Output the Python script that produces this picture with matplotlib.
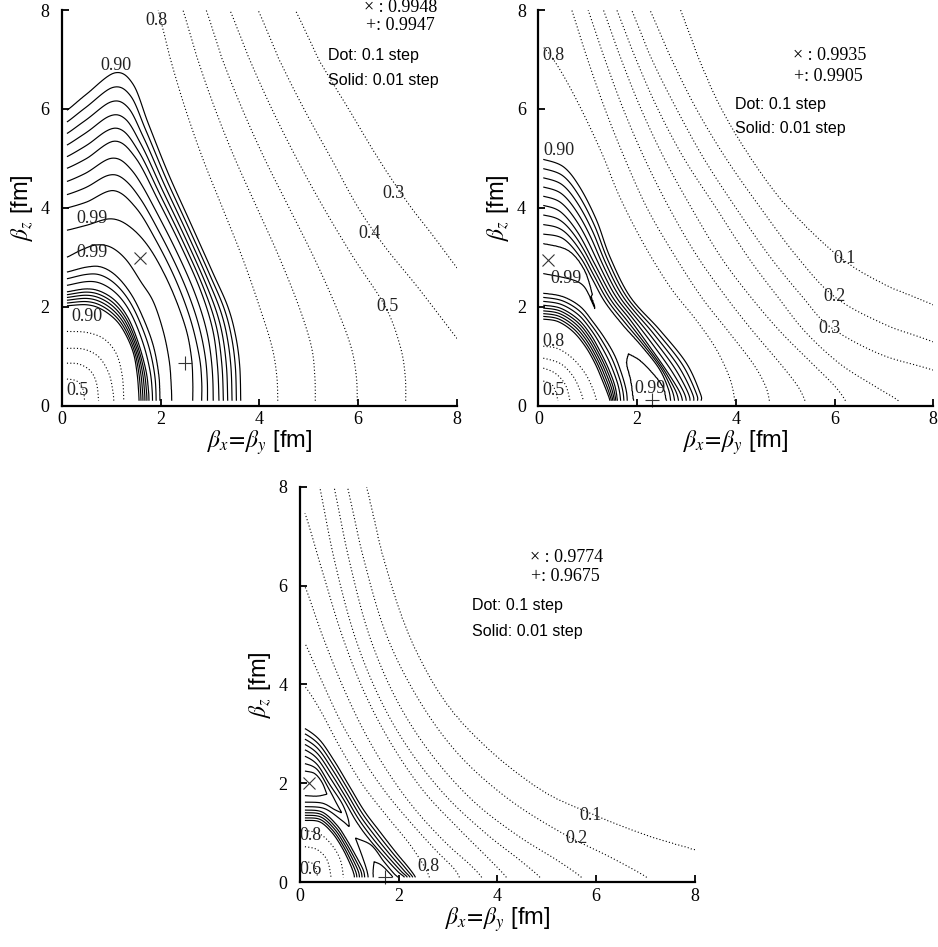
import numpy as np
import matplotlib
matplotlib.use("Agg")
import matplotlib.pyplot as plt

plt.rcParams["font.family"] = ["Liberation Sans", "DejaVu Sans"]
plt.rcParams["mathtext.fontset"] = "stix"
SERIF = ["Liberation Serif", "DejaVu Serif"]

DOT_LEVELS = [0.1, 0.2, 0.3, 0.4, 0.5, 0.6, 0.7, 0.8]
SOLID_LEVELS = [0.90, 0.91, 0.92, 0.93, 0.94, 0.95, 0.96, 0.97, 0.98, 0.99]
TICKS = [0, 2, 4, 6, 8]
TICK_LABELS = ["0", "2", "4", "6", "8"]

# ---------------- Panel 1 ----------------
# Each entry: (overlap value, beta_x points, beta_z points) along that iso-line
P1_LINES = [
    (0.5, [0.10, 0.30, 0.42, 0.46], [0.54, 0.50, 0.35, 0.10]),
    (0.6, [0.10, 0.35, 0.58, 0.70, 0.74], [0.86, 0.84, 0.70, 0.45, 0.10]),
    (0.7, [0.10, 0.45, 0.75, 0.95, 1.03, 1.05], [1.16, 1.14, 0.98, 0.65, 0.30, 0.10]),
    (0.8, [0.10, 0.50, 0.85, 1.10, 1.22, 1.25], [1.50, 1.48, 1.35, 1.05, 0.60, 0.10]),
    (0.90, [0.10, 0.50, 0.80, 1.10, 1.30, 1.45, 1.52, 1.55, 1.56], [2.02, 2.04, 1.95, 1.72, 1.42, 1.05, 0.65, 0.30, 0.10]),
    (0.95, [0.10, 0.50, 0.80, 1.10, 1.35, 1.55, 1.70, 1.75, 1.76], [2.30, 2.36, 2.30, 2.10, 1.75, 1.25, 0.70, 0.30, 0.10]),
    (0.98, [0.10, 0.50, 0.80, 1.10, 1.40, 1.65, 1.85, 1.96, 1.98], [2.70, 2.80, 2.80, 2.62, 2.25, 1.75, 1.20, 0.60, 0.10]),
    (0.99, [0.10, 0.40, 0.70, 1.00, 1.30, 1.60, 1.85, 2.05, 2.17, 2.21, 2.22], [3.00, 3.15, 3.25, 3.20, 2.95, 2.50, 2.10, 1.50, 0.90, 0.40, 0.10]),
    (0.99, [0.10, 0.50, 1.00, 1.40, 1.80, 2.20, 2.50, 2.62, 2.65, 2.65], [3.55, 3.65, 3.78, 3.60, 3.15, 2.40, 1.60, 1.00, 0.50, 0.10]),
    (0.98, [0.10, 0.50, 1.05, 1.50, 1.90, 2.30, 2.60, 2.78, 2.83, 2.83], [4.00, 4.12, 4.35, 4.00, 3.35, 2.55, 1.75, 1.00, 0.50, 0.10]),
    (0.95, [0.10, 0.50, 1.07, 1.50, 1.95, 2.40, 2.80, 3.05, 3.15, 3.18], [4.80, 5.00, 5.35, 5.00, 4.15, 3.25, 2.35, 1.55, 0.80, 0.10]),
    (0.90, [0.10, 0.50, 1.07, 1.44, 1.75, 2.15, 2.60, 3.05, 3.36, 3.52, 3.60, 3.62], [5.97, 6.30, 6.73, 6.50, 5.70, 4.70, 3.70, 2.70, 2.00, 1.40, 0.80, 0.10]),
    (0.8, [1.95, 2.20, 2.50, 2.85, 3.25, 3.65, 4.00, 4.25, 4.35, 4.37], [8.0, 7.0, 6.0, 5.0, 4.0, 3.0, 2.0, 1.2, 0.6, 0.1]),
    (0.7, [2.45, 2.75, 3.10, 3.50, 3.95, 4.40, 4.80, 5.05, 5.12, 5.13], [8.0, 7.0, 6.0, 5.0, 4.0, 3.0, 2.0, 1.2, 0.6, 0.1]),
    (0.6, [2.92, 3.25, 3.65, 4.10, 4.60, 5.10, 5.55, 5.85, 5.96, 5.98], [8.0, 7.0, 6.0, 5.0, 4.0, 3.0, 2.0, 1.2, 0.6, 0.1]),
    (0.5, [3.40, 3.80, 4.25, 4.75, 5.30, 5.90, 6.55, 6.85, 6.95, 6.96], [8.0, 7.0, 6.0, 5.0, 4.0, 3.0, 2.0, 1.2, 0.6, 0.1]),
    (0.4, [3.97, 4.40, 4.90, 5.45, 6.00, 6.55, 7.20, 8.00], [8.0, 7.0, 6.0, 5.0, 4.0, 3.2, 2.4, 1.36]),
    (0.3, [4.72, 5.20, 5.80, 6.40, 7.00, 7.50, 8.00], [8.0, 7.0, 6.0, 5.0, 4.1, 3.45, 2.78]),
    (0.2, [6.00, 8.50, 11.0, 11.5], [11.0, 8.5, 4.0, 0.1]),
]
P1_ARMS = []
P1_RIDGE_X = [0.10, 0.70, 1.58, 2.10, 2.49, 2.45]
P1_RIDGE_Z = [3.27, 3.50, 2.98, 1.90, 0.86, 0.10]
P1_RIDGE_V = [0.9925, 0.993, 0.9948, 0.9935, 0.9947, 0.9945]
P1_NEAR, P1_FAR = 0.42, 0.10
P1_MAX_X, P1_MAX_Z = [1.58, 2.49], [2.98, 0.86]
P1_INFO = ["× : 0.9948", "+: 0.9947"]
P1_LABELS = ["0.8", "0.90", "0.99", "0.99", "0.90", "0.5", "0.3", "0.4", "0.5"]
P1_LABEL_X = [1.92, 1.10, 0.61, 0.61, 0.51, 0.31, 6.71, 6.23, 6.60]
P1_LABEL_Z = [7.78, 6.88, 3.78, 3.10, 1.80, 0.30, 4.30, 3.48, 2.00]

# ---------------- Panel 2 ----------------
P2_LINES = [
    (0.5, [0.10, 0.30, 0.40], [0.50, 0.40, 0.10]),
    (0.6, [0.10, 0.35, 0.55, 0.64], [0.76, 0.65, 0.42, 0.10]),
    (0.7, [0.10, 0.45, 0.70, 0.85, 0.91], [0.96, 0.85, 0.60, 0.30, 0.10]),
    (0.8, [0.10, 0.40, 0.70, 0.95, 1.10, 1.18], [1.20, 1.15, 0.95, 0.65, 0.35, 0.10]),
    (0.90, [0.10, 0.40, 0.70, 0.95, 1.15, 1.30, 1.40, 1.45], [1.75, 1.70, 1.50, 1.20, 0.85, 0.50, 0.25, 0.10]),
    (0.95, [0.10, 0.45, 0.80, 1.05, 1.25, 1.42, 1.55, 1.60], [2.03, 1.97, 1.75, 1.45, 1.10, 0.75, 0.40, 0.10]),
    (0.98, [0.10, 0.50, 0.85, 1.10, 1.35, 1.55, 1.70, 1.78, 1.80], [2.27, 2.20, 2.00, 1.70, 1.35, 1.00, 0.60, 0.30, 0.10]),
    (0.98, [0.10, 0.50, 0.85, 1.10, 1.35, 1.70, 2.10, 2.45, 2.63, 2.68], [3.47, 3.38, 3.00, 2.55, 2.10, 1.65, 1.20, 0.75, 0.35, 0.10]),
    (0.95, [0.10, 0.45, 0.80, 1.15, 1.50, 1.85, 2.25, 2.60, 2.85, 2.92], [4.05, 3.92, 3.50, 2.85, 2.20, 1.75, 1.20, 0.70, 0.30, 0.10]),
    (0.90, [0.10, 0.51, 0.84, 1.18, 1.45, 1.86, 2.46, 3.00, 3.28, 3.30], [4.98, 4.83, 4.42, 3.75, 3.01, 2.20, 1.53, 0.86, 0.25, 0.10]),
    (0.8, [0.10, 0.34, 0.64, 0.98, 1.32, 1.65, 2.13, 2.67, 3.20, 3.60, 3.88, 3.98], [7.25, 6.95, 6.44, 5.77, 5.03, 4.22, 3.28, 2.40, 1.73, 1.15, 0.55, 0.10]),
    (0.7, [0.68, 1.00, 1.35, 1.75, 2.20, 2.72, 3.30, 3.85, 4.35, 4.60, 4.68], [8.0, 7.0, 6.0, 5.0, 4.0, 3.1, 2.2, 1.5, 0.85, 0.4, 0.1]),
    (0.6, [1.01, 1.35, 1.72, 2.15, 2.65, 3.20, 3.80, 4.35, 4.90, 5.25, 5.40], [8.0, 7.0, 6.0, 5.0, 4.0, 3.05, 2.2, 1.5, 0.85, 0.4, 0.1]),
    (0.5, [1.32, 1.68, 2.08, 2.55, 3.10, 3.70, 4.30, 4.90, 5.55, 6.00, 6.22], [8.0, 7.0, 6.0, 5.0, 4.0, 3.0, 2.2, 1.5, 0.85, 0.4, 0.1]),
    (0.4, [1.59, 1.98, 2.42, 2.95, 3.60, 4.25, 4.85, 5.40, 6.10, 6.80, 7.29], [8.0, 7.0, 6.0, 5.0, 4.0, 3.0, 2.2, 1.5, 0.85, 0.4, 0.1]),
    (0.3, [1.89, 2.30, 2.80, 3.35, 4.00, 4.70, 5.35, 5.90, 6.90, 8.00], [8.0, 7.0, 6.0, 5.0, 4.0, 3.0, 2.2, 1.6, 1.05, 0.72]),
    (0.2, [2.26, 2.70, 3.20, 3.80, 4.50, 5.25, 6.00, 7.00, 8.00], [8.0, 7.0, 6.0, 5.0, 4.0, 3.0, 2.2, 1.65, 1.29]),
    (0.1, [2.87, 3.25, 3.70, 4.30, 5.05, 6.10, 7.00, 8.00], [8.0, 7.0, 6.0, 5.0, 4.0, 3.0, 2.45, 2.03]),
]
P2_ARMS = [
    (0.99, [0.10, 0.61, 0.94, 1.11, 1.15], [3.28, 3.14, 2.74, 2.20, 1.93]),
    (0.99, [0.10, 0.81, 1.05, 1.15], [2.67, 2.50, 2.20, 1.93]),
    (0.99, [1.82, 1.78, 1.86, 1.92], [1.06, 0.85, 0.52, 0.10]),
    (0.99, [1.82, 2.06, 2.33, 2.53, 2.60], [1.06, 0.92, 0.65, 0.38, 0.10]),
]
P2_RIDGE_X = [0.10, 0.20, 0.60, 0.95, 1.15, 1.45, 1.82, 2.10, 2.30]
P2_RIDGE_Z = [2.97, 2.94, 2.85, 2.40, 1.93, 1.50, 1.06, 0.60, 0.12]
P2_RIDGE_V = [0.9933, 0.9935, 0.9925, 0.991, 0.990, 0.988, 0.990, 0.9903, 0.9905]
P2_NEAR, P2_FAR = 0.42, 0.0
P2_MAX_X, P2_MAX_Z = [0.20, 2.30], [2.94, 0.12]
P2_INFO = ["× : 0.9935", "+: 0.9905"]
P2_LABELS = ["0.8", "0.90", "0.99", "0.8", "0.5", "0.99", "0.1", "0.2", "0.3"]
P2_LABEL_X = [0.31, 0.41, 0.57, 0.31, 0.31, 2.27, 6.21, 6.00, 5.90]
P2_LABEL_Z = [7.08, 5.16, 2.57, 1.29, 0.30, 0.35, 2.98, 2.20, 1.56]

# ---------------- Panel 3 ----------------
P3_LINES = [
    (0.6, [0.10, 0.28, 0.36], [0.42, 0.36, 0.10]),
    (0.7, [0.10, 0.35, 0.55, 0.63], [0.72, 0.66, 0.45, 0.10]),
    (0.8, [0.10, 0.40, 0.65, 0.82, 0.88], [1.05, 0.98, 0.75, 0.45, 0.10]),
    (0.90, [0.10, 0.40, 0.65, 0.85, 1.00, 1.08, 1.10], [1.25, 1.22, 1.00, 0.70, 0.40, 0.20, 0.10]),
    (0.94, [0.10, 0.45, 0.75, 0.95, 1.15, 1.28, 1.31], [1.46, 1.42, 1.15, 0.85, 0.50, 0.25, 0.10]),
    (0.94, [0.10, 0.35, 0.62, 0.90, 1.15, 1.42, 1.72, 1.98, 2.12], [2.68, 2.50, 2.10, 1.65, 1.22, 0.85, 0.50, 0.22, 0.10]),
    (0.90, [0.10, 0.40, 0.70, 1.00, 1.30, 1.60, 1.95, 2.20, 2.34], [3.11, 2.88, 2.45, 1.95, 1.45, 1.05, 0.60, 0.30, 0.10]),
    (0.8, [0.10, 0.40, 0.80, 1.25, 1.75, 2.20, 2.50, 2.62], [3.96, 3.50, 2.75, 2.00, 1.35, 0.80, 0.35, 0.10]),
    (0.7, [0.10, 0.45, 0.85, 1.30, 1.75, 2.25, 2.75, 3.10, 3.23], [4.83, 4.05, 3.20, 2.45, 1.80, 1.20, 0.65, 0.30, 0.10]),
    (0.6, [0.10, 0.45, 0.85, 1.30, 1.80, 2.35, 2.95, 3.45, 3.68], [5.98, 5.00, 4.00, 3.05, 2.20, 1.45, 0.80, 0.35, 0.10]),
    (0.5, [0.10, 0.45, 0.85, 1.30, 1.85, 2.50, 3.20, 3.80, 4.18], [7.46, 6.30, 5.00, 3.85, 2.80, 1.85, 1.10, 0.50, 0.10]),
    (0.4, [0.40, 0.70, 1.10, 1.60, 2.20, 2.95, 3.75, 4.45, 4.86], [8.0, 6.5, 5.0, 3.75, 2.70, 1.75, 1.00, 0.45, 0.10]),
    (0.3, [0.69, 1.00, 1.40, 1.95, 2.65, 3.50, 4.40, 5.20, 5.70], [8.0, 6.5, 5.0, 3.70, 2.60, 1.65, 0.95, 0.45, 0.10]),
    (0.2, [0.96, 1.30, 1.75, 2.40, 3.20, 4.20, 5.30, 6.30, 7.02], [8.0, 6.5, 5.0, 3.70, 2.60, 1.70, 1.00, 0.50, 0.10]),
    (0.1, [1.34, 1.70, 2.20, 2.90, 3.80, 4.90, 5.90, 7.00, 8.00], [8.0, 6.5, 5.0, 3.70, 2.70, 1.85, 1.38, 0.95, 0.65]),
]
P3_ARMS = [
    (0.97, [0.10, 0.30, 0.45, 0.55], [2.25, 2.20, 2.02, 1.78]),
    (0.97, [0.10, 0.35, 0.55], [1.75, 1.74, 1.78]),
    (0.96, [0.10, 0.35, 0.58, 0.75, 0.85], [2.40, 2.28, 1.90, 1.58, 1.40]),
    (0.96, [0.10, 0.45, 0.70, 0.85], [1.62, 1.60, 1.47, 1.40]),
    (0.95, [0.10, 0.35, 0.60, 0.85, 0.97, 1.00], [2.55, 2.38, 1.98, 1.60, 1.30, 1.12]),
    (0.95, [0.10, 0.50, 0.85, 1.00], [1.53, 1.49, 1.25, 1.12]),
    (0.95, [1.12, 1.25, 1.35, 1.38], [0.90, 0.55, 0.25, 0.10]),
    (0.95, [1.12, 1.45, 1.70, 1.90, 1.98], [0.90, 0.75, 0.42, 0.18, 0.10]),
    (0.96, [1.50, 1.48, 1.48], [0.42, 0.25, 0.10]),
    (0.96, [1.50, 1.65, 1.82, 1.88], [0.42, 0.35, 0.18, 0.10]),
]
P3_RIDGE_X = [0.10, 0.20, 0.55, 0.70, 0.85, 1.00, 1.05, 1.12, 1.50, 1.72]
P3_RIDGE_Z = [2.00, 2.00, 1.78, 1.55, 1.40, 1.12, 1.02, 0.90, 0.42, 0.10]
P3_RIDGE_V = [0.9772, 0.9774, 0.970, 0.965, 0.960, 0.950, 0.9495, 0.950, 0.960, 0.9675]
P3_NEAR, P3_FAR = 0.50, 0.0
P3_MAX_X, P3_MAX_Z = [0.19, 1.72], [2.00, 0.10]
P3_INFO = ["× : 0.9774", "+: 0.9675"]
P3_LABELS = ["0.1", "0.2", "0.8", "0.6", "0.8"]
P3_LABEL_X = [5.88, 5.61, 0.22, 0.22, 2.60]
P3_LABEL_Z = [1.36, 0.89, 0.94, 0.26, 0.32]

# info text anchors: (right x of marker rows, z of rows, left x of legend, z of legend rows)
P1_INFO_POS = ([7.61, 7.55], [8.06, 7.69], 5.38, [7.08, 6.58])
P2_INFO_POS = ([6.65, 6.58], [7.08, 6.66], 3.98, [6.09, 5.60])
P3_INFO_POS = ([6.14, 6.07], [6.57, 6.18], 3.49, [5.59, 5.08])


def _extend(x, z, is_arm):
    x = list(map(float, x)); z = list(map(float, z))
    if x[0] <= 0.15:
        x.insert(0, 0.0); z.insert(0, z[0])
    elif not is_arm:
        dx, dz = x[0] - x[1], z[0] - z[1]
        if dx < 0:
            t = -x[0] / dx
            x.insert(0, 0.0); z.insert(0, z[0] + t * dz)
        else:
            n = np.hypot(dx, dz)
            x.insert(0, x[0] + 4 * dx / n); z.insert(0, z[0] + 4 * dz / n)
    if z[-1] <= 0.15:
        x.append(x[-1]); z.append(0.0)
    elif not is_arm:
        dx, dz = x[-1] - x[-2], z[-1] - z[-2]
        if dz < 0:
            t = -z[-1] / dz
            x.append(x[-1] + t * dx); z.append(0.0)
        else:
            n = np.hypot(dx, dz)
            x.append(x[-1] + 4 * dx / n); z.append(z[-1] + 4 * dz / n)
    return np.array(x), np.array(z)


def _smooth(x, z, n=10):
    """Catmull-Rom pass through the read points (smooth drawing of each iso-line)."""
    P = np.column_stack([x, z])
    if len(P) < 3:
        return x, z
    P = np.vstack([2 * P[0] - P[1], P, 2 * P[-1] - P[-2]])
    t = np.linspace(0, 1, n, endpoint=False)[:, None]
    out = []
    for i in range(1, len(P) - 2):
        p0, p1, p2, p3 = P[i - 1], P[i], P[i + 1], P[i + 2]
        seg = 0.5 * (2 * p1 + (p2 - p0) * t + (2 * p0 - 5 * p1 + 4 * p2 - p3) * t ** 2
                     + (-p0 + 3 * p1 - 3 * p2 + p3) * t ** 3)
        out.append(seg)
    out.append(P[-2][None])
    Q = np.vstack(out)
    return Q[:, 0], Q[:, 1]


def build_field(lines, arms, rx, rz, rv, vnear, vfar):
    traces = []
    for group, is_arm in ((lines, False), (arms, True)):
        for lev, xs, zs in group:
            x, z = _smooth(*_extend(xs, zs, is_arm))
            th = np.degrees(np.arctan2(z, x)); r = np.hypot(x, z)
            o = np.argsort(th)
            traces.append((lev, th[o], r[o], is_arm))
    # ridge of maximal overlap, carried to both axes
    x = np.array([0.0] + list(rx) + [rx[-1]])
    z = np.array([rz[0]] + list(rz) + [0.0])
    v = np.array([rv[0]] + list(rv) + [rv[-1]])
    rth = np.degrees(np.arctan2(z, x)); rr = np.hypot(x, z)
    o = np.argsort(rth); rth, rr, v = rth[o], rr[o], v[o]

    thetas = np.linspace(0, 90, 721)
    rs = np.linspace(0, 16, 1601)
    F = np.empty((thetas.size, rs.size))
    for i, t in enumerate(thetas):
        R = [0.0, 25.0]; V = [vnear, vfar]
        for lev, th, r, part in traces:
            if part and (t < th[0] - 1e-9 or t > th[-1] + 1e-9):
                continue
            R.append(np.interp(t, th, r)); V.append(lev)
        R.append(np.interp(t, rth, rr)); V.append(np.interp(t, rth, v))
        R = np.array(R); V = np.array(V); o = np.argsort(R)
        F[i] = np.interp(rs, R[o], V[o])

    g = np.linspace(0.1, 8.0, 700)
    X, Z = np.meshgrid(g, g)
    T = np.degrees(np.arctan2(Z, X)); RR = np.hypot(X, Z)
    ti = T / (thetas[1] - thetas[0]); ri = RR / (rs[1] - rs[0])
    i0 = np.clip(np.floor(ti).astype(int), 0, thetas.size - 2)
    j0 = np.clip(np.floor(ri).astype(int), 0, rs.size - 2)
    ft = ti - i0; fr = ri - j0
    val = (F[i0, j0] * (1 - ft) * (1 - fr) + F[i0 + 1, j0] * ft * (1 - fr)
           + F[i0, j0 + 1] * (1 - ft) * fr + F[i0 + 1, j0 + 1] * ft * fr)
    return X, Z, val


def draw_panel(ax, lines, arms, rx, rz, rv, vnear, vfar, mx, mz, info, info_pos,
               labels, lx, lz):
    X, Z, val = build_field(lines, arms, rx, rz, rv, vnear, vfar)
    cd = ax.contour(X, Z, val, levels=DOT_LEVELS, colors="black", linewidths=0.8)
    cd.set_linestyle((0, (1.0, 2.0)))
    ax.contour(X, Z, val, levels=SOLID_LEVELS, colors="black", linewidths=0.85,
               linestyles="solid")
    ax.plot(mx[:1], mz[:1], marker="x", ms=8, mew=0.8, color="#333333",
            ls="none", clip_on=False)
    ax.plot(mx[1:], mz[1:], marker="+", ms=10, mew=0.8, color="#333333",
            ls="none", clip_on=False)
    for t, x, z in zip(labels, lx, lz):
        ax.text(x, z, t, fontsize=13, family=SERIF, ha="center", va="center",
                color="#222222")
    xr, zr, xl, zl = info_pos
    for t, x, z in zip(info, xr, zr):
        ax.text(x, z, t, fontsize=13, family=SERIF, ha="right", va="center",
                clip_on=False)
    ax.text(xl, zl[0], "Dot: 0.1 step", fontsize=11.5, ha="left", va="center")
    ax.text(xl, zl[1], "Solid: 0.01 step", fontsize=11.5, ha="left", va="center")

    ax.set_xlim(0, 8); ax.set_ylim(0, 8)
    ax.set_xticks(TICKS); ax.set_yticks(TICKS)
    ax.set_xticklabels(TICK_LABELS, family=SERIF, fontsize=13)
    ax.set_yticklabels(TICK_LABELS, family=SERIF, fontsize=13)
    ax.tick_params(axis="both", direction="in", length=5, width=1.3)
    ax.tick_params(axis="y", pad=9)
    ax.tick_params(axis="x", pad=4)
    for s in ("top", "right"):
        ax.spines[s].set_visible(False)
    for s in ("left", "bottom"):
        ax.spines[s].set_linewidth(1.6)
    ax.set_ylabel(r"$\beta_z$ [fm]", fontsize=17)
    ax.set_xlabel(r"$\beta_x\!=\!\beta_y$ [fm]", fontsize=17)
    ax.yaxis.set_label_coords(-0.068, 0.5)
    ax.xaxis.set_label_coords(0.5, -0.058)


fig = plt.figure(figsize=(9.38, 9.47), dpi=100)
ax1 = fig.add_axes([0.0661, 0.5716, 0.4211, 0.4178])
ax2 = fig.add_axes([0.5739, 0.5716, 0.4211, 0.4178])
ax3 = fig.add_axes([0.3198, 0.0683, 0.4211, 0.4178])

draw_panel(ax1, P1_LINES, P1_ARMS, P1_RIDGE_X, P1_RIDGE_Z, P1_RIDGE_V, P1_NEAR, P1_FAR,
           P1_MAX_X, P1_MAX_Z, P1_INFO, P1_INFO_POS, P1_LABELS, P1_LABEL_X, P1_LABEL_Z)
draw_panel(ax2, P2_LINES, P2_ARMS, P2_RIDGE_X, P2_RIDGE_Z, P2_RIDGE_V, P2_NEAR, P2_FAR,
           P2_MAX_X, P2_MAX_Z, P2_INFO, P2_INFO_POS, P2_LABELS, P2_LABEL_X, P2_LABEL_Z)
draw_panel(ax3, P3_LINES, P3_ARMS, P3_RIDGE_X, P3_RIDGE_Z, P3_RIDGE_V, P3_NEAR, P3_FAR,
           P3_MAX_X, P3_MAX_Z, P3_INFO, P3_INFO_POS, P3_LABELS, P3_LABEL_X, P3_LABEL_Z)

fig.savefig("out.png", dpi=100)
